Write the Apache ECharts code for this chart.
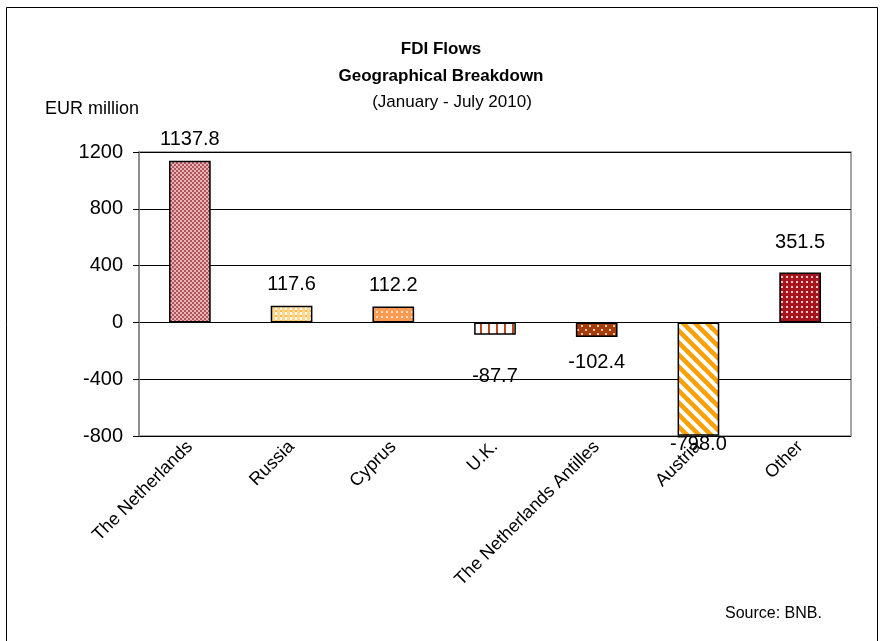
<!DOCTYPE html>
<html><head><meta charset="utf-8">
<script src="https://cdn.jsdelivr.net/npm/echarts@6/dist/echarts.min.js"></script>
<style>html,body{margin:0;padding:0;background:#fff}#c{width:882px;height:641px}</style>
</head><body><div id="c"></div>
<script>
const categories = ['The Netherlands','Russia','Cyprus','U.K.','The Netherlands Antilles','Austria','Other'];
const values = [1137.8, 117.6, 112.2, -87.7, -102.4, -798.0, 351.5];
const yTicks = [-800, -400, 0, 400, 800, 1200];
// label vertical nudges (style only)
const labelNudge = [-11, -11, -11, 32, 16, -1, -20];

function tile(w, h, draw){
  const c = document.createElement('canvas'); c.width = w; c.height = h;
  const g = c.getContext('2d'); draw(g, w, h); return c;
}
const patterns = [
  tile(4,4,(g)=>{g.fillStyle='#b0545c';g.fillRect(0,0,4,4);g.fillStyle='#e4b4b6';g.fillRect(0,0,2,2);g.fillRect(2,2,2,2);}),
  tile(5,5,(g)=>{g.fillStyle='#fff8ee';g.fillRect(0,0,5,5);g.fillStyle='#ffb84a';g.fillRect(0,0,2,2);g.fillStyle='#ffd890';g.fillRect(2,0,3,5);}),
  tile(5,5,(g)=>{g.fillStyle='#ff9a52';g.fillRect(0,0,5,5);g.fillStyle='#ffe0c8';g.fillRect(1,1,2,2);}),
  tile(8,8,(g)=>{g.fillStyle='#ffffff';g.fillRect(0,0,8,8);g.fillStyle='#b8481a';g.fillRect(0,0,2,8);}),
  tile(8,8,(g)=>{g.fillStyle='#a63c0a';g.fillRect(0,0,8,8);g.fillStyle='#f4d0b8';g.fillRect(1,1,2,2);g.fillRect(5,5,2,2);}),
  tile(12,12,(g)=>{g.fillStyle='#ffffff';g.fillRect(0,0,12,12);g.strokeStyle='#ffa000';g.lineWidth=4.5;
    for(let k=-2;k<=2;k++){g.beginPath();g.moveTo(k*12-2,-2);g.lineTo(k*12+14,14);g.stroke();}}),
  tile(5,5,(g)=>{g.fillStyle='#a8141e';g.fillRect(0,0,5,5);g.fillStyle='#f0c8c8';g.fillRect(1,1,2,2);})
];

const chart = echarts.init(document.getElementById('c'), null, {renderer:'canvas'});
const FONT = 'Liberation Sans, Arial, sans-serif';
chart.setOption({
  animation:false,
  backgroundColor:'#fff',
  textStyle:{fontFamily:FONT},
  title:[
    {text:'FDI Flows', left:436, textAlign:'center', top:36, textStyle:{fontSize:17, fontWeight:'bold', color:'#000', fontFamily:FONT}},
    {text:'Geographical Breakdown', left:436, textAlign:'center', top:63, textStyle:{fontSize:17, fontWeight:'bold', color:'#000', fontFamily:FONT}},
    {text:'(January - July 2010)', left:447, textAlign:'center', top:89, textStyle:{fontSize:17, fontWeight:'normal', color:'#000', fontFamily:FONT}},
    {text:'EUR million', left:40, top:95, textStyle:{fontSize:18, fontWeight:'normal', color:'#000', fontFamily:FONT}},
    {text:'Source: BNB.', left:720, top:601, textStyle:{fontSize:16, fontWeight:'normal', color:'#000', fontFamily:FONT}}
  ],
  graphic:[{type:'rect', shape:{x:6.5,y:7.5,width:871,height:660}, style:{fill:null, stroke:'#000', lineWidth:1}, silent:true}],
  grid:{left:139, right:31, top:152, bottom:205, show:true, borderColor:'#888', borderWidth:1.5},
  xAxis:{type:'category', data:categories,
    axisLine:{show:false}, axisTick:{show:false},
    axisLabel:{rotate:45, fontSize:18, color:'#000', margin:8, interval:0, fontFamily:FONT}},
  yAxis:{type:'value', min:-800, max:1200, interval:400,
    axisLine:{show:true, lineStyle:{color:'#888', width:1.5}},
    axisTick:{show:true, length:6, lineStyle:{color:'#000'}},
    axisLabel:{fontSize:20, color:'#000', margin:16, fontFamily:FONT,
      formatter:(v)=> yTicks.includes(v) ? String(v) : ''},
    splitLine:{show:true, lineStyle:{color:'#000', width:1}}},
  series:[{type:'bar', barWidth:'41%',
    data: values.map((v,i)=>({value:v,
      itemStyle:{color:{image:patterns[i], repeat:'repeat'}, borderColor:'#000', borderWidth:1.5},
      label:{show:true, position: v>=0?'top':'bottom', distance:0, offset:[0,labelNudge[i]],
        fontSize:20, color:'#000', fontFamily:FONT, formatter:()=>v.toFixed(1)}
    }))
  }]
});
</script></body></html>
